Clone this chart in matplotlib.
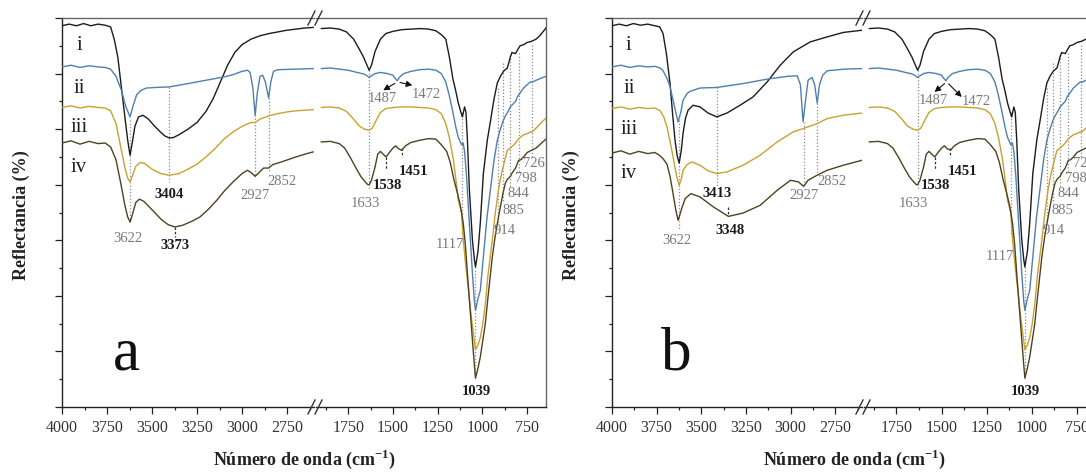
import matplotlib.pyplot as plt
from matplotlib.lines import Line2D
from matplotlib.ticker import MultipleLocator

plt.rcParams["font.family"] = ["Liberation Serif", "DejaVu Serif"]
plt.rcParams["mathtext.fontset"] = "custom"
plt.rcParams["mathtext.rm"] = "Liberation Serif:bold"
plt.rcParams["mathtext.bf"] = "Liberation Serif:bold"

FIG_W, FIG_H = 1086, 472

SERIES_LABELS = ["i", "ii", "iii", "iv"]
SERIES_COLORS = ["#1c1c1c", "#4f7fae", "#c8a22e", "#4e4220"]

# ---- panel a, 4000-2600 cm-1 -------------------------------------------
a_left_wn_i = [4000, 3960, 3920, 3880, 3840, 3800, 3760, 3730, 3710, 3690,
               3670, 3650, 3635, 3622, 3610, 3595, 3575, 3550, 3520, 3490,
               3460, 3430, 3404, 3380, 3350, 3300, 3250, 3200, 3160, 3120,
               3080, 3040, 3000, 2950, 2900, 2850, 2800, 2750, 2700, 2650, 2605]
a_left_i = [6.86, 6.89, 6.86, 6.90, 6.86, 6.89, 6.87, 6.84, 6.62, 6.30,
            5.75, 5.20, 4.80, 4.53, 4.75, 5.05, 5.22, 5.25, 5.18, 5.07,
            4.97, 4.88, 4.84, 4.85, 4.90, 5.00, 5.12, 5.32, 5.55, 5.85,
            6.15, 6.38, 6.52, 6.62, 6.68, 6.72, 6.75, 6.78, 6.80, 6.82, 6.83]

a_left_wn_ii = [4000, 3950, 3900, 3850, 3800, 3760, 3730, 3700, 3670, 3645,
                3622, 3605, 3585, 3560, 3530, 3480, 3404, 3300, 3200, 3100,
                3050, 3000, 2970, 2955, 2940, 2927, 2915, 2900, 2885, 2870,
                2852, 2840, 2825, 2800, 2700, 2605]
a_left_ii = [6.12, 6.15, 6.11, 6.14, 6.12, 6.11, 6.08, 5.95, 5.70, 5.40,
             5.22, 5.42, 5.62, 5.70, 5.74, 5.75, 5.76, 5.82, 5.88, 5.94,
             5.98, 6.04, 6.06, 6.02, 5.75, 5.25, 5.65, 5.95, 5.97, 5.85,
             5.56, 5.85, 6.04, 6.07, 6.08, 6.09]

a_left_wn_iii = [4000, 3950, 3900, 3850, 3800, 3760, 3730, 3700, 3675, 3650,
                 3635, 3622, 3610, 3590, 3565, 3540, 3500, 3450, 3404, 3350,
                 3300, 3250, 3200, 3150, 3100, 3050, 3000, 2950, 2927, 2900,
                 2850, 2800, 2750, 2700, 2605]
a_left_iii = [5.39, 5.42, 5.38, 5.41, 5.39, 5.38, 5.33, 5.10, 4.70, 4.30,
              4.12, 4.05, 4.15, 4.33, 4.40, 4.38, 4.28, 4.20, 4.17, 4.20,
              4.28, 4.37, 4.50, 4.65, 4.82, 4.95, 5.05, 5.12, 5.12, 5.18,
              5.24, 5.28, 5.31, 5.33, 5.35]

a_left_wn_iv = [4000, 3950, 3900, 3850, 3800, 3760, 3730, 3700, 3675, 3650,
                3635, 3622, 3610, 3590, 3570, 3545, 3500, 3450, 3410, 3373,
                3330, 3280, 3233, 3180, 3140, 3100, 3050, 3000, 2970, 2950,
                2927, 2905, 2880, 2852, 2830, 2772, 2700, 2650, 2605]
a_left_iv = [4.75, 4.79, 4.73, 4.78, 4.74, 4.75, 4.68, 4.45, 4.05, 3.62,
             3.42, 3.33, 3.45, 3.68, 3.74, 3.70, 3.55, 3.38, 3.28, 3.24,
             3.27, 3.34, 3.42, 3.58, 3.72, 3.88, 4.05, 4.20, 4.26, 4.22,
             4.15, 4.22, 4.30, 4.30, 4.36, 4.42, 4.50, 4.55, 4.59]

# ---- panel b, 4000-2600 cm-1 -------------------------------------------
b_left_wn_i = [4000, 3960, 3920, 3880, 3840, 3800, 3760, 3733, 3714, 3695,
               3675, 3660, 3647, 3635, 3624, 3612, 3602, 3588, 3574, 3546,
               3507, 3462, 3413, 3356, 3283, 3210, 3131, 3058, 2985, 2890,
               2795, 2705, 2600]
b_left_i = [6.86, 6.89, 6.86, 6.90, 6.87, 6.89, 6.86, 6.84, 6.72, 6.35,
            5.82, 5.25, 4.80, 4.52, 4.39, 4.62, 4.93, 5.20, 5.34, 5.43,
            5.40, 5.29, 5.22, 5.29, 5.43, 5.58, 5.85, 6.15, 6.39, 6.57,
            6.66, 6.74, 6.78]

b_left_wn_ii = [4000, 3950, 3900, 3850, 3800, 3760, 3730, 3714, 3690, 3675,
                3660, 3647, 3630, 3615, 3602, 3580, 3563, 3507, 3413, 3266,
                3131, 3019, 2963, 2945, 2930, 2915, 2902, 2880, 2865, 2851,
                2838, 2820, 2795, 2700, 2600]
b_left_ii = [6.12, 6.15, 6.11, 6.14, 6.12, 6.13, 6.10, 6.05, 5.90, 5.76,
             5.55, 5.36, 5.13, 5.30, 5.52, 5.64, 5.68, 5.74, 5.75, 5.82,
             5.90, 5.95, 5.96, 5.80, 5.13, 5.55, 5.88, 5.93, 5.80, 5.47,
             5.80, 5.97, 6.05, 6.08, 6.09]

b_left_wn_iii = [4000, 3950, 3900, 3850, 3800, 3760, 3730, 3710, 3692, 3675,
                 3658, 3640, 3624, 3612, 3602, 3580, 3552, 3507, 3462, 3413,
                 3356, 3266, 3170, 3075, 2985, 2930, 2851, 2795, 2705, 2600]
b_left_iii = [5.37, 5.40, 5.36, 5.39, 5.37, 5.38, 5.33, 5.22, 5.04, 4.78,
              4.50, 4.18, 3.99, 4.10, 4.26, 4.36, 4.41, 4.35, 4.25, 4.20,
              4.23, 4.35, 4.53, 4.77, 4.95, 5.01, 5.10, 5.19, 5.25, 5.29]

b_left_wn_iv = [4000, 3950, 3900, 3850, 3800, 3760, 3730, 3710, 3692, 3675,
                3658, 3643, 3630, 3618, 3607, 3590, 3558, 3507, 3432, 3348,
                3266, 3170, 3075, 3000, 2955, 2927, 2902, 2852, 2795, 2705, 2600]
b_left_iv = [4.57, 4.61, 4.55, 4.60, 4.56, 4.58, 4.52, 4.45, 4.37, 4.15,
             3.84, 3.55, 3.36, 3.48, 3.60, 3.75, 3.84, 3.78, 3.60, 3.43,
             3.49, 3.63, 3.90, 4.08, 4.05, 3.97, 4.08, 4.17, 4.26, 4.35, 4.44]

# ---- 1900-645 cm-1 (same in both panels) --------------------------------
right_wn_i = [1900, 1850, 1800, 1760, 1720, 1690, 1665, 1645, 1633, 1620,
              1600, 1570, 1540, 1500, 1450, 1400, 1350, 1300, 1260, 1230,
              1205, 1185, 1165, 1150, 1135, 1120, 1112, 1100, 1092, 1084,
              1073, 1056, 1045, 1039, 1025, 1012, 995, 973, 955, 935,
              917, 900, 880, 861, 844, 835, 827, 815, 805, 790,
              770, 750, 726, 700, 680, 660, 645]
right_i = [6.81, 6.82, 6.80, 6.75, 6.62, 6.45, 6.30, 6.15, 6.06, 6.15,
           6.40, 6.62, 6.72, 6.76, 6.79, 6.80, 6.81, 6.80, 6.77, 6.70,
           6.62, 6.30, 5.90, 5.70, 5.47, 5.30, 5.22, 5.40, 5.30, 4.80,
           3.90, 3.00, 2.65, 2.52, 2.80, 3.31, 4.20, 4.80, 5.15, 5.55,
           5.83, 5.95, 6.05, 6.10, 6.30, 6.38, 6.37, 6.36, 6.42, 6.50,
           6.52, 6.56, 6.58, 6.62, 6.68, 6.76, 6.82]

right_wn_ii = [1900, 1850, 1800, 1750, 1700, 1660, 1645, 1633, 1620, 1600,
               1570, 1530, 1500, 1487, 1476, 1465, 1440, 1400, 1350, 1300,
               1260, 1230, 1205, 1185, 1165, 1150, 1135, 1125, 1117, 1108,
               1100, 1090, 1075, 1056, 1045, 1039, 1025, 1012, 995, 975,
               956, 935, 917, 900, 883, 870, 860, 844, 830, 815,
               805, 790, 770, 750, 732, 726, 700, 670, 645]
right_ii = [6.09, 6.10, 6.08, 6.06, 6.02, 5.99, 5.96, 5.93, 5.96, 6.00,
            6.02, 6.00, 5.97, 5.91, 5.87, 5.93, 6.00, 6.04, 6.07, 6.08,
            6.06, 6.00, 5.85, 5.60, 5.30, 5.05, 4.85, 4.78, 4.72, 4.75,
            4.60, 4.20, 3.40, 2.40, 1.90, 1.74, 1.95, 2.10, 2.70, 3.40,
            3.90, 4.45, 4.80, 5.00, 5.16, 5.25, 5.30, 5.40, 5.45, 5.50,
            5.58, 5.65, 5.74, 5.80, 5.85, 5.84, 5.88, 5.92, 5.95]

right_wn_iii = [1900, 1850, 1800, 1760, 1720, 1690, 1660, 1633, 1615, 1595,
                1570, 1540, 1500, 1450, 1400, 1350, 1300, 1260, 1230, 1205,
                1185, 1162, 1145, 1135, 1117, 1107, 1095, 1078, 1065, 1051,
                1039, 1025, 1012, 998, 984, 970, 955, 945, 930, 911,
                900, 889, 875, 861, 844, 830, 815, 805, 790, 770,
                750, 732, 726, 700, 670, 645]
right_iii = [5.39, 5.40, 5.38, 5.32, 5.18, 5.06, 5.00, 4.98, 5.02, 5.15,
             5.30, 5.37, 5.39, 5.40, 5.40, 5.39, 5.38, 5.35, 5.28, 5.10,
             4.85, 4.44, 4.00, 3.72, 3.50, 3.00, 2.60, 2.10, 1.70, 1.33,
             1.03, 1.12, 1.25, 1.50, 1.85, 2.35, 2.75, 3.00, 3.45, 3.90,
             4.10, 4.26, 4.45, 4.62, 4.66, 4.70, 4.75, 4.80, 4.85, 4.90,
             4.92, 4.95, 4.94, 5.02, 5.12, 5.20]

right_wn_iv = [1900, 1850, 1800, 1770, 1740, 1710, 1680, 1655, 1640, 1633,
               1620, 1600, 1585, 1570, 1555, 1538, 1520, 1500, 1485, 1470,
               1451, 1430, 1400, 1350, 1300, 1260, 1230, 1200, 1180, 1160,
               1140, 1125, 1117, 1107, 1095, 1084, 1070, 1056, 1045, 1039,
               1025, 1012, 998, 984, 970, 955, 945, 930, 917, 900,
               885, 872, 860, 844, 833, 815, 798, 785, 770, 750,
               726, 700, 670, 645]
right_iv = [4.77, 4.78, 4.74, 4.66, 4.50, 4.32, 4.15, 4.05, 4.00, 4.00,
            4.08, 4.32, 4.55, 4.60, 4.55, 4.50, 4.58, 4.66, 4.70, 4.65,
            4.62, 4.70, 4.76, 4.80, 4.83, 4.82, 4.72, 4.60, 4.40, 4.10,
            3.85, 3.65, 3.50, 3.30, 2.90, 2.40, 1.80, 1.20, 0.75, 0.52,
            0.70, 0.90, 1.20, 1.50, 1.95, 2.40, 2.70, 3.05, 3.30, 3.60,
            3.85, 4.03, 4.10, 4.15, 4.22, 4.30, 4.44, 4.45, 4.50, 4.58,
            4.62, 4.66, 4.75, 4.82]

# peak labels
a_left_peaks = ["3622", "3404", "3373", "2927", "2852"]
b_left_peaks = ["3622", "3413", "3348", "2927", "2852"]
right_peaks = ["1633", "1538", "1451", "1117", "1039", "914", "885", "844", "798", "726"]

GRAY_TXT = "#7a7a7a"
DARK_TXT = "#1a1a1a"
DOT_COL = "#8c8c8c"


def axes_at(fig, x0, x1, top=18, bottom=407):
    return fig.add_axes([x0 / FIG_W, 1 - bottom / FIG_H,
                         (x1 - x0) / FIG_W, (bottom - top) / FIG_H])


def style_axes(ax, side):
    ax.set_ylim(0, 7)
    ax.yaxis.set_major_locator(MultipleLocator(1))
    ax.yaxis.set_minor_locator(MultipleLocator(0.5))
    ax.xaxis.set_major_locator(MultipleLocator(250))
    ax.xaxis.set_minor_locator(MultipleLocator(125))
    ax.tick_params(which="both", direction="out", width=0.9, colors="#222",
                   labelsize=11.5, labelcolor="#333", pad=4)
    ax.tick_params(which="major", length=5)
    ax.tick_params(which="minor", length=2.5)
    ax.set_yticklabels([])
    for s in ("top", "right"):
        ax.spines[s].set_color("#666")
    for s in ("left", "bottom"):
        ax.spines[s].set_color("#222")
    for s in ax.spines.values():
        s.set_linewidth(1.0)
    if side == "left":
        ax.spines["right"].set_visible(False)
    else:
        ax.spines["left"].set_visible(False)
        ax.tick_params(axis="y", which="both", left=False)
    ax.tick_params(top=False, right=False, which="both")


def vline(ax, x, y0, y1, dark=False):
    ax.plot([x, x], [y0, y1], color="#333" if dark else DOT_COL,
            lw=0.9, ls=(0, (2, 1.5)) if dark else (0, (1, 1.6)), zorder=1)


def label(ax, x, y, text, bold=False, ha="center"):
    ax.text(x, y, text, ha=ha, va="center", fontsize=10.5,
            color=DARK_TXT if bold else GRAY_TXT,
            fontweight="bold" if bold else "normal")


def break_marks(fig, xc):
    for py in (18, 407):
        for dx in (-3.5, 3.5):
            x = xc + dx
            fig.add_artist(Line2D([(x - 3.5) / FIG_W, (x + 3.5) / FIG_W],
                                  [1 - (py + 7) / FIG_H, 1 - (py - 7) / FIG_H],
                                  color="#333", lw=1.0))


def draw_panel(fig, x0, left_data, left_peaks, letter, variant):
    axl = axes_at(fig, x0, x0 + 252 if variant == "a" else x0 + 250)
    axr = axes_at(fig, x0 + 254 if variant == "a" else x0 + 252, x0 + 484)
    style_axes(axl, "left")
    style_axes(axr, "right")
    axl.set_xlim(4000, 2600)
    axr.set_xlim(1930, 645)

    right_data = [(right_wn_i, right_i), (right_wn_ii, right_ii),
                  (right_wn_iii, right_iii), (right_wn_iv, right_iv)]
    for (wl, yl), (wr, yr), c in zip(left_data, right_data, SERIES_COLORS):
        axl.plot(wl, yl, color=c, lw=1.0, zorder=3)
        axr.plot(wr, yr, color=c, lw=1.0, zorder=3)

    # numerals i..iv
    num_y = [6.42, 5.65, 4.95, 4.23] if variant == "a" else [6.42, 5.65, 4.92, 4.12]
    for name, y in zip(SERIES_LABELS, num_y):
        axl.text(3905, y, name, ha="center", va="baseline", fontsize=15, color="#222")

    axl.text(3640, 0.68, letter, ha="center", va="baseline", fontsize=44, color="#111")

    # left segment peak marks
    if variant == "a":
        marks = [(3622, 5.16, 3.31, 3633, 3.04, False),
                 (3404, 5.75, 4.05, 3404, 3.83, True),
                 (3373, 3.24, 3.06, 3373, 2.91, True),
                 (2927, 5.25, 4.17, 2927, 3.81, False),
                 (2852, 5.56, 4.23, 2778, 4.05, False)]
    else:
        marks = [(3622, 5.16, 3.18, 3636, 3.00, False),
                 (3413, 5.75, 3.97, 3413, 3.85, True),
                 (3348, 3.60, 3.47, 3338, 3.18, True),
                 (2927, 5.13, 4.00, 2927, 3.81, False),
                 (2852, 5.47, 4.17, 2767, 4.05, False)]
    for (x, y0, y1, tx, ty, bold), txt in zip(marks, left_peaks):
        vline(axl, x, y0, y1, dark=(bold and y0 - y1 < 0.5))
        label(axl, tx, ty, txt, bold)

    # right segment peak marks
    y1117 = 2.93 if variant == "a" else 2.70
    rmarks = [(1633, 6.06, 3.90, 1655, 3.67, False, "center"),
              (1538, 4.50, 4.28, 1532, 3.99, True, "center"),
              (1451, 4.66, 4.50, 1386, 4.23, True, "center"),
              (1117, 5.30, 3.10, 1180, y1117, False, "center"),
              (1039, 2.52, 0.52, 1036, 0.27, True, "center"),
              (914, 5.74, 3.31, 939, 3.18, False, "left"),
              (885, 6.19, 3.67, 889, 3.54, False, "left"),
              (844, 6.33, 3.96, 861, 3.85, False, "left"),
              (798, 6.37, 4.23, 816, 4.12, False, "left"),
              (726, 6.51, 4.50, 771, 4.39, False, "left")]
    for (x, y0, y1, tx, ty, bold, ha), txt in zip(rmarks, right_peaks):
        vline(axr, x, y0, y1, dark=(bold and x > 1400 and x < 1600))
        label(axr, tx, ty, txt, bold, ha=ha)

    # 1487 / 1472 arrows
    if variant == "a":
        start, ends, txt_pos = (1476, 5.85), [(1554, 5.70), (1392, 5.79)], [(1560, 5.56), (1314, 5.63)]
    else:
        start, ends, txt_pos = (1472, 5.85), [(1539, 5.67), (1389, 5.58)], [(1544, 5.52), (1306, 5.49)]
    for end in ends:
        axr.annotate("", xy=end, xytext=start,
                     arrowprops=dict(arrowstyle="-|>,head_width=0.18,head_length=0.35",
                                     color="#111", lw=0.8, shrinkA=2, shrinkB=0))
    for (tx, ty), txt in zip(txt_pos, ["1487", "1472"]):
        label(axr, tx, ty, txt)

    break_marks(fig, x0 + 253 if variant == "a" else x0 + 251)

    xc = (x0 + x0 + 484) / 2
    fig.text(xc / FIG_W, 0.027, "Número de onda (cm$^{\\mathbf{-1}}$)",
             ha="center", va="center", fontsize=13, fontweight="bold", color="#222")
    fig.text((x0 - 41) / FIG_W, 1 - 215 / FIG_H, "Reflectancia (%)", rotation=90,
             ha="center", va="center", fontsize=13, fontweight="bold", color="#222")


fig = plt.figure(figsize=(FIG_W / 100, FIG_H / 100), dpi=100)

a_left = [(a_left_wn_i, a_left_i), (a_left_wn_ii, a_left_ii),
          (a_left_wn_iii, a_left_iii), (a_left_wn_iv, a_left_iv)]
b_left = [(b_left_wn_i, b_left_i), (b_left_wn_ii, b_left_ii),
          (b_left_wn_iii, b_left_iii), (b_left_wn_iv, b_left_iv)]

draw_panel(fig, 62, a_left, a_left_peaks, "a", "a")
draw_panel(fig, 612, b_left, b_left_peaks, "b", "b")

fig.savefig("out.png", dpi=100)
